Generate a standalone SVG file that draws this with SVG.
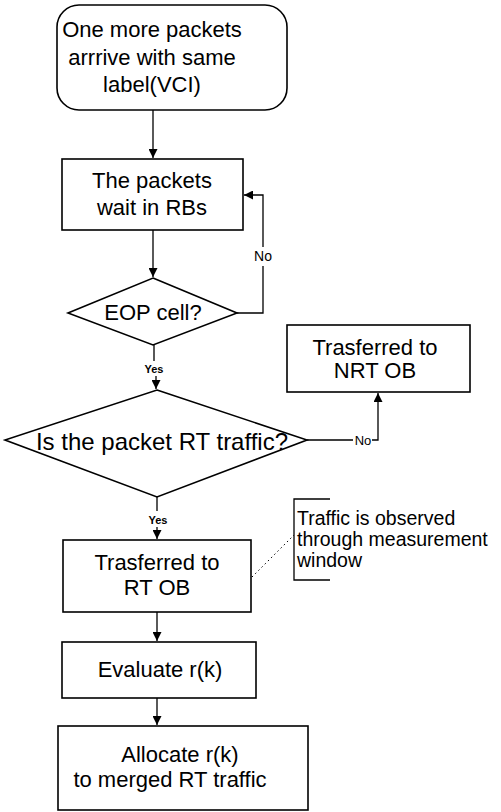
<svg xmlns="http://www.w3.org/2000/svg" width="501" height="812" viewBox="0 0 501 812">
<defs>
<marker id="ah" viewBox="0 0 10 10" refX="10" refY="5" markerWidth="9" markerHeight="9" markerUnits="userSpaceOnUse" orient="auto">
<path d="M0,0 L10,5 L0,10 z" fill="#000"/>
</marker>
<style>
.box{fill:#fff;stroke:#000;stroke-width:1.6}
.t{font-family:"Liberation Sans",Arial,sans-serif;font-size:22px;fill:#000;text-anchor:middle}
.n{font-family:"Liberation Sans",Arial,sans-serif;font-size:19.5px;fill:#000}
.s{font-family:"Liberation Sans",Arial,sans-serif;font-size:12px;fill:#000;text-anchor:middle}
.c{fill:none;stroke:#000;stroke-width:1.3}
.d{fill:none;stroke:#000;stroke-width:1;stroke-dasharray:1.5 3}
</style>
</defs>
<rect width="501" height="812" fill="#fff"/>
<g id="connectors">
<path class="c" d="M153,110 V158" marker-end="url(#ah)"/>
<path class="c" d="M153,230 V277" marker-end="url(#ah)"/>
<path class="c" d="M237,313 H263 V266 M263,247 V195 H244" marker-end="url(#ah)"/>
<path class="c" d="M154,345 V361 M156,376 V389" marker-end="url(#ah)"/>
<path class="c" d="M307,440 H353 M372,440 H378 V393" marker-end="url(#ah)"/>
<path class="c" d="M157,497 V511 M157,527 V539" marker-end="url(#ah)"/>
<path class="c" d="M157,612 V641" marker-end="url(#ah)"/>
<path class="c" d="M157,698 V725" marker-end="url(#ah)"/>
<path class="d" d="M252,577 L294,535"/>
<text class="s" x="263" y="261" style="font-size:14px">No</text>
<text class="s" x="154" y="373" style="font-weight:bold;font-size:11px">Yes</text>
<text class="s" x="363" y="445" style="font-size:13px">No</text>
<text class="s" x="158" y="524" style="font-weight:bold;font-size:11px">Yes</text>
</g>
<g id="start">
<rect class="box" x="57" y="5" width="230" height="105" rx="22" ry="22"/>
<text class="t" x="152" y="37">One more packets</text>
<text class="t" x="152" y="65">arrrive with same</text>
<text class="t" x="152" y="92">label(VCI)</text>
</g>
<g id="wait">
<rect class="box" x="62" y="159" width="181" height="71"/>
<text class="t" x="152" y="188">The packets</text>
<text class="t" x="152" y="215">wait in RBs</text>
</g>
<g id="eop">
<polygon class="box" points="153,278 237,313 153,345 68,313"/>
<text class="t" x="153" y="320">EOP cell?</text>
</g>
<g id="rt-decision">
<polygon class="box" points="157,390 307,440 157,497 5,440"/>
<text class="t" x="162" y="450" style="font-size:24px">Is the packet RT traffic?</text>
</g>
<g id="nrt">
<rect class="box" x="287" y="325" width="183" height="67"/>
<text class="t" x="375" y="355">Trasferred to</text>
<text class="t" x="375" y="378">NRT OB</text>
</g>
<g id="rt">
<rect class="box" x="63" y="540" width="188" height="72"/>
<text class="t" x="157" y="570">Trasferred to</text>
<text class="t" x="157" y="595">RT OB</text>
</g>
<g id="note">
<path class="c" d="M330,499 H294 V580 H330"/>
<text class="n" x="297" y="525">Traffic is observed</text>
<text class="n" x="297" y="546">through measurement</text>
<text class="n" x="297" y="567">window</text>
</g>
<g id="evaluate">
<rect class="box" x="62" y="642" width="194" height="56"/>
<text class="t" x="160" y="677">Evaluate r(k)</text>
</g>
<g id="allocate">
<rect class="box" x="58" y="726" width="250" height="84"/>
<text class="t" x="180" y="762">Allocate r(k)</text>
<text class="t" x="170" y="787">to merged RT traffic</text>
</g>
</svg>
